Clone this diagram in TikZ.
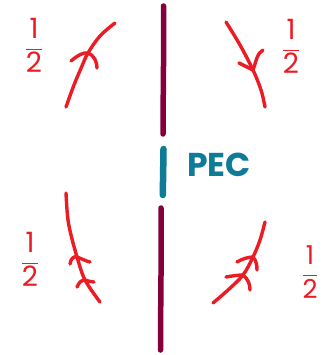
\documentclass[tikz,border=0pt]{standalone}
\usepackage{fontspec}
\setmainfont{Poppins}
\definecolor{ink}{RGB}{236,28,36}
\definecolor{wall}{RGB}{132,0,60}
\definecolor{pec}{RGB}{14,124,150}
\tikzset{
  stroke/.style={draw=ink, line width=3.4pt, line cap=round, line join=round},
  wallline/.style={draw=wall, line width=5.5pt, line cap=round},
  pecline/.style={draw=pec, line width=6.5pt, line cap=round},
  half/.style={text=ink, font=\fontsize{28}{32}\selectfont, inner sep=0pt},
  peclabel/.style={text=pec, font=\fontsize{33}{36}\selectfont\bfseries, inner sep=0pt}
}
\newcommand{\halffrac}{$\displaystyle\frac{\mbox{1}}{\mbox{2}}$}
\begin{document}
\begin{tikzpicture}[x=1pt, y=-1pt]
\useasboundingbox (0,0) rectangle (331,355);
\fill[white] (0,0) rectangle (331,355);

% the conducting wall, split by the PEC segment
\draw[wallline] (163.5,6) .. controls (164,50) and (163,100) .. (163,134);
\draw[pecline] (163.5,149) .. controls (163.3,165) and (163,180) .. (162.8,195);
\draw[wallline] (161,208) .. controls (161.5,260) and (160.5,310) .. (160.5,350);
\node[peclabel] (pectext) at (219,165) {PEC};

% upper left current, pointing up
\draw[stroke] plot[smooth, tension=0.6] coordinates {(66,107) (74,85) (82,66) (88,53) (100,36) (115,23)};
\draw[stroke] (71,61) .. controls (78,55) and (84,52) .. (88,53) .. controls (94,55) and (97,62) .. (97,68);
\node[half] (h1) at (34,45) {\halffrac};

% upper right current, pointing down
\draw[stroke] plot[smooth, tension=0.6] coordinates {(226,22) (240,45) (253,70) (261,90) (265,107)};
\draw[stroke] (239,63) -- (253,70) .. controls (256,62) and (257,53) .. (263,50);
\node[half] (h2) at (291,46) {\halffrac};

% lower left current, double arrow pointing up
\draw[stroke] plot[smooth, tension=0.6] coordinates {(66,193) (68,220) (73,243) (77,257) (85,280) (100,302)};
\draw[stroke] (70,264) .. controls (71,258) and (74,256) .. (77,257) .. controls (82,259) and (86,261) .. (90,262);
\draw[stroke] (77,287) .. controls (79,282) and (82,280) .. (85,280) .. controls (88,281) and (91,282) .. (94,282);
\node[half] (h3) at (30,259) {\halffrac};

% lower right current, double arrow pointing up
\draw[stroke] plot[smooth, tension=0.6] coordinates {(213,303) (228,290) (243,275) (253,257) (260,240) (265,222)};
\draw[stroke] (237,262) .. controls (242,259) and (248,257) .. (253,257) .. controls (256,260) and (257,265) .. (257,270);
\draw[stroke] (226,277) .. controls (232,276) and (238,275) .. (243,275) .. controls (248,279) and (250,284) .. (250,290);
\node[half, font=\fontsize{26}{30}\selectfont] (h4) at (310,272) {\halffrac};
\end{tikzpicture}
\end{document}
